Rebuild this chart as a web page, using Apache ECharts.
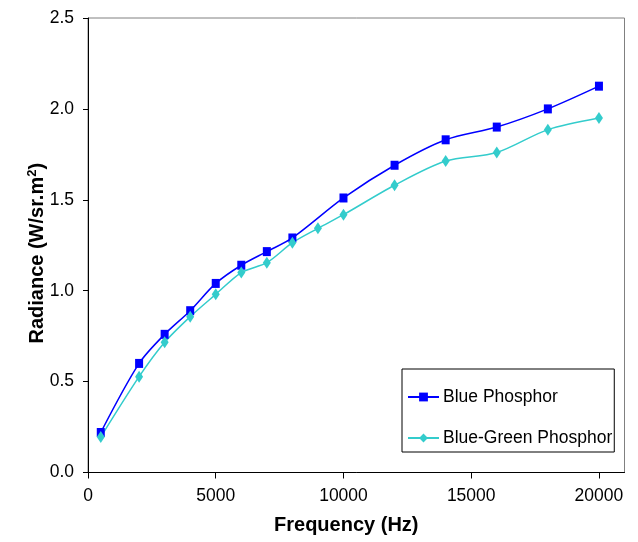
<!DOCTYPE html>
<html>
<head>
<meta charset="utf-8">
<script src="https://cdn.jsdelivr.net/npm/echarts@6/dist/echarts.min.js"></script>
<style>html,body{margin:0;padding:0;background:#fff}#c{width:638px;height:542px}</style>
</head>
<body>
<div id="c"></div>
<script>
const blueFreq = [500, 2000, 3000, 4000, 5000, 6000, 7000, 8000, 10000, 12000, 14000, 16000, 18000, 20000];
const blueVals = [0.22, 0.60, 0.76, 0.89, 1.04, 1.14, 1.215, 1.29, 1.51, 1.69, 1.83, 1.90, 2.00, 2.125];
const greenFreq = [500, 2000, 3000, 4000, 5000, 6000, 7000, 8000, 9000, 10000, 12000, 14000, 16000, 18000, 20000];
const greenVals = [0.195, 0.527, 0.716, 0.857, 0.98, 1.10, 1.154, 1.264, 1.343, 1.418, 1.58, 1.713, 1.76, 1.886, 1.95];
const xTicks = [0, 5000, 10000, 15000, 20000];
const yTicks = [0, 0.5, 1.0, 1.5, 2.0, 2.5];
const seriesNames = ['Blue Phosphor', 'Blue-Green Phosphor'];

const FONT = 'Liberation Sans, Arial, sans-serif';
const chart = echarts.init(document.getElementById('c'), null, {renderer: 'canvas'});
chart.setOption({
  animation: false,
  backgroundColor: '#fff',
  grid: {left: 88, right: 13.5, top: 18, bottom: 69.5, show: true, borderColor: '#808080', borderWidth: 1, backgroundColor: 'transparent'},
  legend: {
    orient: 'vertical', left: 402, top: 369,
    data: seriesNames,
    itemWidth: 31, itemHeight: 11, itemGap: 23,
    padding: [19, 2, 5, 5],
    borderColor: '#000', borderWidth: 1, backgroundColor: '#fff',
    textStyle: {fontFamily: FONT, fontSize: 17.5, color: '#000', padding: [0, 0, 0, -1]}
  },
  xAxis: {
    type: 'value', min: 0, max: 21000, interval: 5000,
    name: 'Frequency (Hz)', nameLocation: 'middle', nameGap: 43, nameMoveOverlap: false,
    nameTextStyle: {fontFamily: FONT, fontSize: 20, fontWeight: 'bold', color: '#000', padding: [0, 20, 0, 0]},
    axisLine: {show: true, onZero: false, lineStyle: {color: '#000', width: 1}},
    axisTick: {show: true, inside: false, length: 6, customValues: xTicks, lineStyle: {color: '#000'}},
    axisLabel: {customValues: xTicks, fontFamily: FONT, fontSize: 17.5, color: '#000', margin: 15,
      formatter: v => String(v)},
    splitLine: {show: false}
  },
  yAxis: {
    type: 'value', min: 0, max: 2.5, interval: 0.5,
    name: 'Radiance (W/sr.m{sup|2})', nameLocation: 'middle', nameGap: 40, nameMoveOverlap: false,
    nameTextStyle: {fontFamily: FONT, fontSize: 20, fontWeight: 'bold', color: '#000', padding: [0, 16, 0, 0],
      rich: {sup: {fontFamily: FONT, fontSize: 13, fontWeight: 'bold', color: '#000', verticalAlign: 'top', padding: [0, 0, 9, 0]}}},
    axisLine: {show: true, lineStyle: {color: '#000', width: 1}},
    axisTick: {show: true, length: 5, customValues: yTicks, lineStyle: {color: '#000'}},
    axisLabel: {customValues: yTicks, fontFamily: FONT, fontSize: 17.5, color: '#000', margin: 14,
      formatter: v => v.toFixed(1)},
    splitLine: {show: false}
  },
  series: [
    {
      name: seriesNames[0], type: 'line', smooth: 0.3,
      data: blueFreq.map((f, i) => [f, blueVals[i]]),
      symbol: 'rect', symbolSize: [8, 9],
      lineStyle: {color: '#0000FF', width: 1.5},
      itemStyle: {color: '#0000FF'}
    },
    {
      name: seriesNames[1], type: 'line', smooth: 0.3,
      data: greenFreq.map((f, i) => [f, greenVals[i]]),
      symbol: 'diamond', symbolSize: [8, 12],
      lineStyle: {color: '#33CCCC', width: 1.5},
      itemStyle: {color: '#33CCCC'}
    }
  ]
});
</script>
</body>
</html>
